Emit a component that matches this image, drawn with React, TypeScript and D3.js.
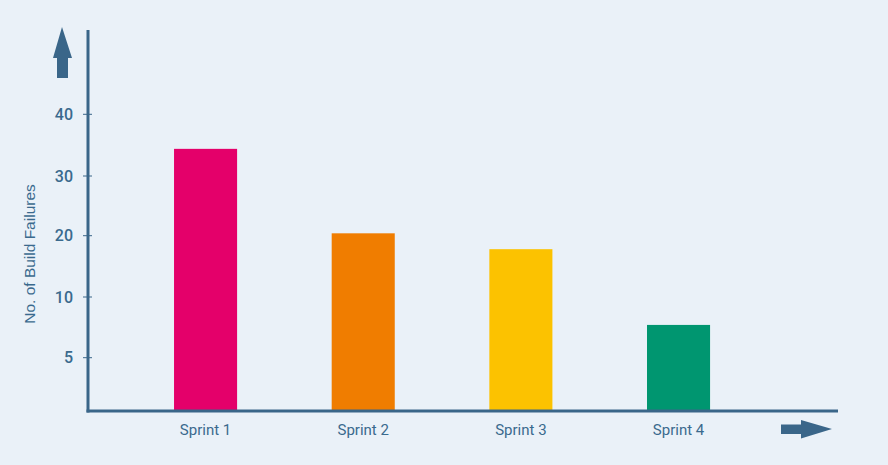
import React from "react";
import * as d3 from "d3";

const categories = ["Sprint 1", "Sprint 2", "Sprint 3", "Sprint 4"];
const failures = [34.4, 20.4, 17.8, 7.7];
const colors = ["#E4006A", "#F07D00", "#FCC200", "#009670"];
const tickValues = [5, 10, 20, 30, 40];
const tickLabels = ["5", "10", "20", "30", "40"];

const W = 888;
const H = 465;
const axisColor = "#3A6689";
const textColor = "#3A6A8E";

export default function App() {
  const x = d3
    .scaleBand<string>()
    .domain(categories)
    .range([95.2, 788.9])
    .paddingInner(0.6)
    .paddingOuter(0.5);
  // uneven tick spacing in the original: piecewise linear scale
  const y = d3
    .scaleLinear()
    .domain([0, 5, 10, 20, 30, 40])
    .range([411, 357.7, 297, 235.7, 176, 114.3]);

  const axisX = 88;
  const baseY = 411;

  return (
    <svg
      width={W}
      height={H}
      style={{ position: "absolute", left: 0, top: 0, display: "block" }}
    >
      <rect x={0} y={0} width={W} height={H} fill="#EAF1F8" />
      {/* bars */}
      {categories.map((c, i) => (
        <rect
          key={c}
          x={x(c)}
          y={y(failures[i])}
          width={x.bandwidth()}
          height={baseY - y(failures[i])}
          fill={colors[i]}
        />
      ))}
      {/* y ticks */}
      {tickValues.map((v, i) => (
        <g key={v}>
          <line
            x1={axisX - 5}
            x2={axisX + 4}
            y1={y(v)}
            y2={y(v)}
            stroke={axisColor}
            strokeWidth={1}
          />
          <text
            x={73}
            y={y(v)}
            dy="0.36em"
            textAnchor="end"
            fontFamily="Roboto, sans-serif"
            fontWeight={500}
            fontSize={16}
            fill={textColor}
          >
            {tickLabels[i]}
          </text>
        </g>
      ))}
      {/* axes */}
      <line x1={axisX} x2={axisX} y1={30} y2={baseY + 1.5} stroke={axisColor} strokeWidth={3} />
      <line x1={axisX - 1.5} x2={838} y1={baseY} y2={baseY} stroke={axisColor} strokeWidth={3} />
      {/* x labels */}
      {categories.map((c) => (
        <text
          key={c}
          x={(x(c) as number) + x.bandwidth() / 2}
          y={435}
          textAnchor="middle"
          fontFamily="Roboto, sans-serif"
          fontSize={15}
          fill={textColor}
        >
          {c}
        </text>
      ))}
      {/* y title */}
      <text
        transform="translate(34.5,254) rotate(-90)"
        textAnchor="middle"
        fontFamily="Liberation Sans, Arial, sans-serif"
        fontSize={15.5}
        fill={textColor}
      >
        No. of Build Failures
      </text>
      {/* up arrow */}
      <path
        d="M62,27 L72,58 L68,58 L68,78 L57,78 L57,58 L53,58 Z"
        fill={axisColor}
      />
      {/* right arrow */}
      <path
        d="M832,429 L801,420 L801,424.5 L781,424.5 L781,434 L801,434 L801,438.5 Z"
        fill={axisColor}
      />
    </svg>
  );
}
